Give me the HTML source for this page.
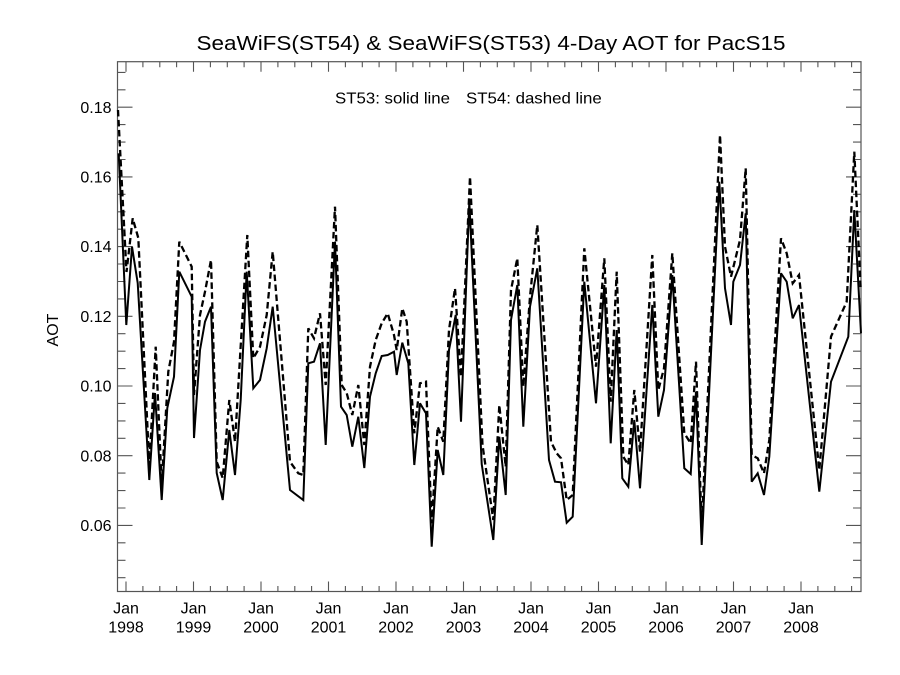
<!DOCTYPE html>
<html>
<head>
<meta charset="utf-8">
<style>
  html, body { margin: 0; padding: 0; background: #fff; }
  svg { display: block; }
  text { font-family: "Liberation Sans", "DejaVu Sans", sans-serif; fill: #000; }
</style>
</head>
<body>
<svg width="900" height="675" viewBox="0 0 900 675" xmlns="http://www.w3.org/2000/svg">
  <rect x="0" y="0" width="900" height="675" fill="#fff"/>

  <!-- Title -->
  <text x="196.5" y="50" font-size="20.5" textLength="589" lengthAdjust="spacingAndGlyphs">SeaWiFS(ST54) &amp; SeaWiFS(ST53) 4-Day AOT for PacS15</text>

  <!-- Legend -->
  <text x="335" y="103.3" font-size="16" textLength="115" lengthAdjust="spacingAndGlyphs">ST53: solid line</text>
  <text x="466" y="103.3" font-size="16" textLength="135.7" lengthAdjust="spacingAndGlyphs">ST54: dashed line</text>

  <!-- Axes box -->
  <rect x="117.5" y="61.7" width="743.5" height="529.8" fill="none" stroke="#555" stroke-width="1.2"/>

  <!-- Y ticks (left & right) -->
  <g stroke="#555" stroke-width="1.1">
    <!-- major: 0.06..0.18 -->
    <path d="M117.5 525.4h15 M117.5 455.7h15 M117.5 386h15 M117.5 316.3h15 M117.5 246.6h15 M117.5 176.9h15 M117.5 107.2h15"/>
    <path d="M861 525.4h-15 M861 455.7h-15 M861 386h-15 M861 316.3h-15 M861 246.6h-15 M861 176.9h-15 M861 107.2h-15"/>
    <!-- minor -->
    <path d="M117.5 577.7h8 M117.5 560.3h8 M117.5 542.8h8 M117.5 508h8 M117.5 490.6h8 M117.5 473.1h8 M117.5 438.3h8 M117.5 420.9h8 M117.5 403.4h8 M117.5 368.6h8 M117.5 351.2h8 M117.5 333.7h8 M117.5 298.9h8 M117.5 281.5h8 M117.5 264h8 M117.5 229.2h8 M117.5 211.8h8 M117.5 194.3h8 M117.5 159.5h8 M117.5 142.1h8 M117.5 124.6h8 M117.5 89.8h8 M117.5 72.4h8"/>
    <path d="M861 577.7h-8 M861 560.3h-8 M861 542.8h-8 M861 508h-8 M861 490.6h-8 M861 473.1h-8 M861 438.3h-8 M861 420.9h-8 M861 403.4h-8 M861 368.6h-8 M861 351.2h-8 M861 333.7h-8 M861 298.9h-8 M861 281.5h-8 M861 264h-8 M861 229.2h-8 M861 211.8h-8 M861 194.3h-8 M861 159.5h-8 M861 142.1h-8 M861 124.6h-8 M861 89.8h-8 M861 72.4h-8"/>
  </g>

  <!-- X ticks (bottom & top) -->
  <g stroke="#555" stroke-width="1.1">
    <path d="M126 591.5v-10 M193.5 591.5v-10 M261 591.5v-10 M328.5 591.5v-10 M396 591.5v-10 M463.5 591.5v-10 M531 591.5v-10 M598.5 591.5v-10 M666 591.5v-10 M733.5 591.5v-10 M801 591.5v-10"/>
    <path d="M126 61.7v10 M193.5 61.7v10 M261 61.7v10 M328.5 61.7v10 M396 61.7v10 M463.5 61.7v10 M531 61.7v10 M598.5 61.7v10 M666 61.7v10 M733.5 61.7v10 M801 61.7v10"/>
    <path d="M142.9 591.5v-5.5 M159.8 591.5v-5.5 M176.6 591.5v-5.5 M210.4 591.5v-5.5 M227.3 591.5v-5.5 M244.1 591.5v-5.5 M277.9 591.5v-5.5 M294.8 591.5v-5.5 M311.6 591.5v-5.5 M345.4 591.5v-5.5 M362.3 591.5v-5.5 M379.1 591.5v-5.5 M412.9 591.5v-5.5 M429.8 591.5v-5.5 M446.6 591.5v-5.5 M480.4 591.5v-5.5 M497.3 591.5v-5.5 M514.1 591.5v-5.5 M547.9 591.5v-5.5 M564.8 591.5v-5.5 M581.6 591.5v-5.5 M615.4 591.5v-5.5 M632.3 591.5v-5.5 M649.1 591.5v-5.5 M682.9 591.5v-5.5 M699.8 591.5v-5.5 M716.6 591.5v-5.5 M750.4 591.5v-5.5 M767.3 591.5v-5.5 M784.1 591.5v-5.5 M817.9 591.5v-5.5 M834.8 591.5v-5.5 M851.6 591.5v-5.5"/>
    <path d="M142.9 61.7v5.5 M159.8 61.7v5.5 M176.6 61.7v5.5 M210.4 61.7v5.5 M227.3 61.7v5.5 M244.1 61.7v5.5 M277.9 61.7v5.5 M294.8 61.7v5.5 M311.6 61.7v5.5 M345.4 61.7v5.5 M362.3 61.7v5.5 M379.1 61.7v5.5 M412.9 61.7v5.5 M429.8 61.7v5.5 M446.6 61.7v5.5 M480.4 61.7v5.5 M497.3 61.7v5.5 M514.1 61.7v5.5 M547.9 61.7v5.5 M564.8 61.7v5.5 M581.6 61.7v5.5 M615.4 61.7v5.5 M632.3 61.7v5.5 M649.1 61.7v5.5 M682.9 61.7v5.5 M699.8 61.7v5.5 M716.6 61.7v5.5 M750.4 61.7v5.5 M767.3 61.7v5.5 M784.1 61.7v5.5 M817.9 61.7v5.5 M834.8 61.7v5.5 M851.6 61.7v5.5"/>
  </g>

  <!-- Y tick labels -->
  <g font-size="16" text-anchor="end">
    <text x="111.5" y="531">0.06</text>
    <text x="111.5" y="461.3">0.08</text>
    <text x="111.5" y="391.6">0.10</text>
    <text x="111.5" y="321.9">0.12</text>
    <text x="111.5" y="252.2">0.14</text>
    <text x="111.5" y="182.5">0.16</text>
    <text x="111.5" y="112.8">0.18</text>
  </g>

  <!-- Y axis title -->
  <text x="0" y="0" font-size="16" text-anchor="middle" transform="translate(58,330) rotate(-90)">AOT</text>

  <!-- X tick labels -->
  <g font-size="16" text-anchor="middle">
    <text x="126" y="613.3">Jan</text><text x="126" y="632.7">1998</text>
    <text x="193.5" y="613.3">Jan</text><text x="193.5" y="632.7">1999</text>
    <text x="261" y="613.3">Jan</text><text x="261" y="632.7">2000</text>
    <text x="328.5" y="613.3">Jan</text><text x="328.5" y="632.7">2001</text>
    <text x="396" y="613.3">Jan</text><text x="396" y="632.7">2002</text>
    <text x="463.5" y="613.3">Jan</text><text x="463.5" y="632.7">2003</text>
    <text x="531" y="613.3">Jan</text><text x="531" y="632.7">2004</text>
    <text x="598.5" y="613.3">Jan</text><text x="598.5" y="632.7">2005</text>
    <text x="666" y="613.3">Jan</text><text x="666" y="632.7">2006</text>
    <text x="733.5" y="613.3">Jan</text><text x="733.5" y="632.7">2007</text>
    <text x="801" y="613.3">Jan</text><text x="801" y="632.7">2008</text>
  </g>

  <!-- ST54 dashed -->
  <polyline fill="none" stroke="#000" stroke-width="2.3" stroke-linejoin="miter" stroke-miterlimit="3" stroke-dasharray="6.5 3.5"
    points="118,110 126.5,272 132.7,218.3 138.3,238 149.3,465 155.7,346.7 161.7,485 168.3,371.7 174,341.7 179.3,241.7 191.7,266.7 194,395 200,315 205,291.7 211,260 216.7,461.7 222.7,478 229.3,400 235,441.7 247.3,235 253.3,358.3 260,346.7 266.7,315 272.7,251.7 290,461.7 298.3,473.3 303.3,475 308.3,328.3 314,338.3 320,313.3 325.7,385 335,206.7 341.7,385 346.7,393 352.3,415 358.3,385 364.3,445 370,366.7 375.7,340 381.7,323.3 387.7,313.3 394,335 396.7,350 402.3,308.3 406.7,321.7 414.3,433.3 420,383.3 426,381.7 431.7,523.3 437.7,426.7 443.3,441.7 449,330 455,288.3 461,376.7 470,176.7 482.5,445 493.3,520 499.3,405 505.7,466.7 511,290 517.3,258.3 523.3,386.7 530,296.7 537.3,225 551,441.7 556.7,453.3 561,458.3 566.7,500 572.7,495 584.3,248.3 596,366.7 604.3,258.3 610.7,401.7 616.7,271.7 623.3,456.7 628.3,465 634.3,390 640,451.7 652.3,255 658.3,390 664,368.3 672.3,253.3 684.3,433.3 690.7,443.3 696,361.7 701.7,526.7 720,135 725,246.7 731,276.7 740,240 745.7,168.3 751.7,455 757.7,458.3 764,473.3 769.3,440 781,238.3 786.7,253.3 792.7,283.3 799,275 819.3,470 831,336.7 846.7,301.7 854.3,151.7 860.7,290"/>

  <!-- ST53 solid -->
  <polyline fill="none" stroke="#000" stroke-width="2" stroke-linejoin="miter" stroke-miterlimit="3"
    points="118.7,153.3 126.3,325 132,246.7 137.7,283 149.3,480 155,393 161.7,500 167.3,408 174,376.7 179.3,271.7 191.7,296.7 194,438 200,350 205,321.7 211,306.7 216.7,473 222.7,500 229.3,430 235,475 240.7,400 246.7,271.7 253.3,388.3 260,380 266.7,348.3 272.7,306.7 290,490 303.3,500 308.3,363.3 314,361.7 320,343.3 325.7,445 335,241.7 341,406.7 346.7,415 352.3,446.7 358.3,416.7 364.3,468 370,396.7 375.7,373.3 381.7,356 387.7,355 394,351.7 396.7,375 402.3,342.7 408.3,363.3 414.3,465 420,403.3 426,413.3 431.7,546.7 437.7,450 443.3,475 449,350 455.7,315 461,421.7 469.3,201.7 481.7,464 493.3,540 499.3,436.7 505.7,495 511,320 517.3,285 523.3,426.7 530,306.7 537.3,268.3 549,460 555,481.7 561,482.3 566.7,522.7 572.7,516.7 584.3,281.7 596,403.3 604.3,285 610.7,443.3 616.7,330 622.3,478.3 628.3,486.7 634.3,420 640,488.3 652.3,305 658.3,416.7 664,390 672.3,275 684.3,468.3 690.7,474 696,391.7 701.7,545 719.3,181.7 725,288.3 731,325 733.3,281.7 740,265 745.7,213.3 751.7,481.7 757.7,473.3 764,495 769.3,456.7 781,273.3 786.7,281.7 792.7,318.3 799,305 819.3,491.7 831,381.7 840,358.3 848.3,336.7 854.3,210 861,333.3"/>
</svg>
</body>
</html>
